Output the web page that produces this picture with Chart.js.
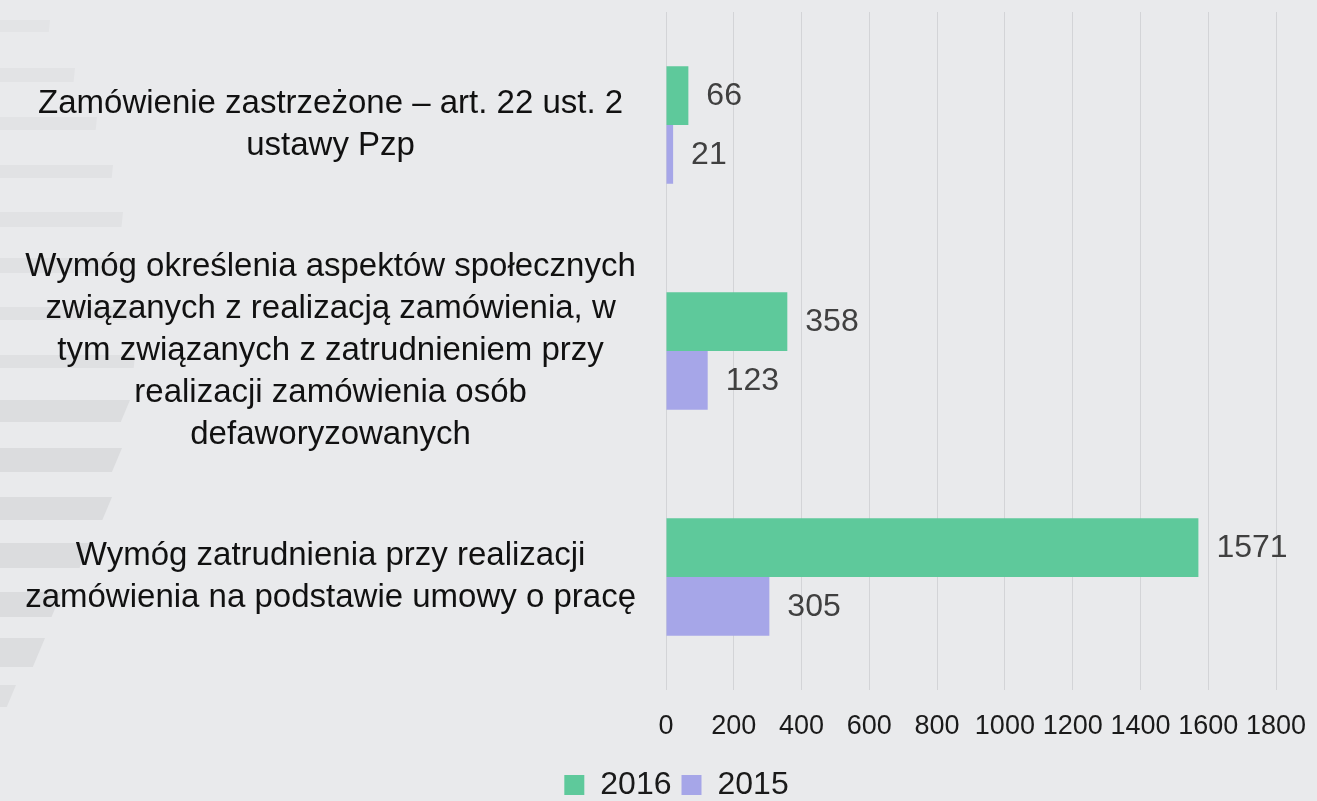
<!DOCTYPE html>
<html lang="pl">
<head>
<meta charset="UTF-8">
<title>Wymogi społeczne w zamówieniach</title>
<script src="https://cdn.jsdelivr.net/npm/chart.js"></script>
<style>
  html, body { margin: 0; padding: 0; background: #e9eaec; }
  #wrap { width: 1317px; height: 801px; }
</style>
</head>
<body>
<div id="wrap"><canvas id="chart"></canvas></div>
<script>
// dane
const categories = [
  ['Zamówienie zastrzeżone – art. 22 ust. 2', 'ustawy Pzp'],
  ['Wymóg określenia aspektów społecznych', 'związanych z realizacją zamówienia, w', 'tym związanych z zatrudnieniem przy', 'realizacji zamówienia osób', 'defaworyzowanych'],
  ['Wymóg zatrudnienia przy realizacji', 'zamówienia na podstawie umowy o pracę']
];
const series2016 = [66, 358, 1571];
const series2015 = [21, 123, 305];
const seriesLabels = ['2016', '2015'];
const axisMax = 1800;
const axisStep = 200;

const FONT = "'Liberation Sans', Arial, sans-serif";

// paski w tle po lewej (dekoracja)
const bgStripes = {
  id: 'bgStripes',
  beforeDraw(chart) {
    const c = chart.ctx;
    c.save();
    c.fillStyle = '#e9eaec';
    c.fillRect(0, 0, chart.width, chart.height);
    const bands = [
      [20, 32, 50, '#e3e4e6'], [68, 82, 75, '#e2e3e5'], [117, 130, 97, '#e2e3e5'],
      [165, 178, 113, '#e1e2e4'], [212, 227, 123, '#e1e2e4'], [258, 273, 130, '#e0e1e3'],
      [307, 320, 133, '#e0e1e3'], [355, 368, 135, '#dfe0e2'], [400, 422, 130, '#dcdddf'],
      [448, 472, 122, '#dbdcde'], [497, 520, 112, '#dbdcde'], [543, 568, 90, '#dbdcde'],
      [592, 617, 62, '#dbdcde'], [638, 667, 45, '#dcdddf'], [685, 707, 16, '#dedfe1']
    ];
    bands.forEach(([y0, y1, xr, col]) => {
      const slope = y0 > 380 ? 0.42 : 0.1;
      c.fillStyle = col;
      c.beginPath();
      c.moveTo(0, y0);
      c.lineTo(xr, y0);
      c.lineTo(Math.max(0, xr - slope * (y1 - y0)), y1);
      c.lineTo(0, y1);
      c.closePath();
      c.fill();
    });
    c.restore();
  }
};

// etykiety wartości przy słupkach
const valueLabels = {
  id: 'valueLabels',
  afterDatasetsDraw(chart) {
    const c = chart.ctx;
    c.save();
    c.font = '32px ' + FONT;
    c.fillStyle = '#404040';
    c.textAlign = 'left';
    c.textBaseline = 'middle';
    chart.data.datasets.forEach((ds, i) => {
      chart.getDatasetMeta(i).data.forEach((bar, j) => {
        c.fillText(String(ds.data[j]), bar.x + 18, bar.y + 1);
      });
    });
    c.restore();
  }
};

// legenda troche w prawo i w dol, jak w oryginale
const legendShift = {
  id: 'legendShift',
  afterLayout(chart) {
    const lg = chart.legend;
    if (!lg) return;
    lg.left += 18; lg.right += 18;
    lg.top += 10; lg.bottom += 10;
  }
};

new Chart(document.getElementById('chart'), {
  type: 'bar',
  data: {
    labels: categories,
    datasets: [
      { label: seriesLabels[0], data: series2016, backgroundColor: '#5ec99b' },
      { label: seriesLabels[1], data: series2015, backgroundColor: '#a6a6e8' }
    ]
  },
  options: {
    indexAxis: 'y',
    responsive: true,
    maintainAspectRatio: false,
    animation: false,
    categoryPercentage: 0.52,
    barPercentage: 1.0,
    layout: { padding: { top: 12, left: 0, right: 0, bottom: 0 } },
    scales: {
      x: {
        min: 0,
        max: axisMax,
        ticks: {
          stepSize: axisStep,
          autoSkip: false,
          maxRotation: 0,
          padding: 20,
          color: '#1a1a1a',
          font: { family: FONT, size: 27 },
          callback: v => String(v)
        },
        grid: { color: '#d3d4d7', lineWidth: 1, drawTicks: false },
        border: { display: false },
        afterFit(scale) {
          scale.height = 59;
          scale.paddingLeft = 0;
          scale.paddingRight = 41;
        }
      },
      y: {
        grid: { display: false },
        border: { display: false },
        ticks: {
          crossAlign: 'center',
          padding: 22,
          color: '#111111',
          font: { family: FONT, size: 33, lineHeight: 1.27 }
        },
        afterFit(scale) {
          scale.width = 666;
          scale.paddingTop = 0;
          scale.paddingBottom = 0;
        }
      }
    },
    plugins: {
      legend: {
        position: 'bottom',
        labels: {
          boxWidth: 20,
          boxHeight: 20,
          padding: 10,
          color: '#1a1a1a',
          font: { family: FONT, size: 32 }
        }
      },
      tooltip: { enabled: false }
    }
  },
  plugins: [bgStripes, valueLabels, legendShift]
});
</script>
</body>
</html>
